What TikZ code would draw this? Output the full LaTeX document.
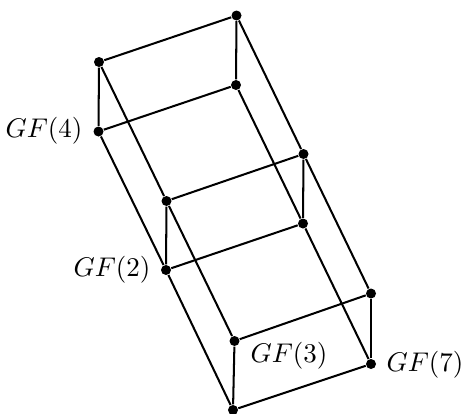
\documentclass[tikz,border=0pt]{standalone}
\begin{document}
\begin{tikzpicture}[x=0.37pt,y=-0.37pt,
  dot/.style={circle,fill=black,inner sep=0pt,minimum size=3.7pt},
  lbl/.style={inner sep=0pt},
  edge/.style={line width=0.75pt}]
\useasboundingbox (0,0) rectangle (461,413);
% nodes
\node[dot] (n000) at (233,410) {};
\node[dot] (n010) at (234.5,341) {};
\node[dot] (n001) at (371,364) {};
\node[dot] (n011) at (371,293.5) {};
\node[dot] (n100) at (166,270) {};
\node[dot] (n110) at (166.5,201) {};
\node[dot] (n101) at (303,223.5) {};
\node[dot] (n111) at (303.5,154) {};
\node[dot] (n200) at (98.5,131.5) {};
\node[dot] (n210) at (99,62) {};
\node[dot] (n201) at (236,85) {};
\node[dot] (n211) at (236.5,15.5) {};
% labels
\node[lbl,anchor=east] (l4) at (83,131) {$GF(4)$};
\node[lbl,anchor=east] (l2) at (151,270) {$GF(2)$};
\node[lbl,anchor=west] (l3) at (250,356) {$GF(3)$};
\node[lbl,anchor=west] (l7) at (386,364.5) {$GF(7)$};
% edges
\draw[edge] (n000) -- (n010);
\draw[edge] (n001) -- (n011);
\draw[edge] (n100) -- (n110);
\draw[edge] (n101) -- (n111);
\draw[edge] (n200) -- (n210);
\draw[edge] (n201) -- (n211);
\draw[edge] (n000) -- (n001);
\draw[edge] (n010) -- (n011);
\draw[edge] (n100) -- (n101);
\draw[edge] (n110) -- (n111);
\draw[edge] (n200) -- (n201);
\draw[edge] (n210) -- (n211);
\draw[edge] (n000) -- (n100) -- (n200);
\draw[edge] (n010) -- (n110) -- (n210);
\draw[edge] (n001) -- (n101) -- (n201);
\draw[edge] (n011) -- (n111) -- (n211);
\end{tikzpicture}
\end{document}
